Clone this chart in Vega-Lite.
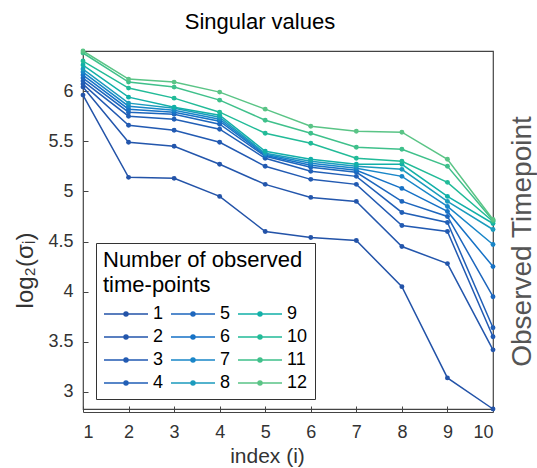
{
  "$schema": "https://vega.github.io/schema/vega-lite/v6.json",
  "autosize": {"type": "none"},
  "width": 410,
  "height": 358,
  "padding": {"left": 83, "top": 51, "right": 44, "bottom": 59},
  "config": {
    "font": "Liberation Sans",
    "view": {"stroke": "#444", "strokeWidth": 1.2},
    "title": {"fontSize": 22, "fontWeight": "normal", "color": "#000", "font": "Liberation Sans"},
    "axis": {"labelFont": "Liberation Sans", "titleFont": "Liberation Sans", "labelColor": "#333", "titleColor": "#333", "titleFontWeight": "normal", "grid": false}
  },
  "title": {"text": "Singular values", "fontSize": 22, "offset": 14, "anchor": "middle", "dx": -28},
  "data": {"values": [
    {"s":1,"i":1,"v":5.96},{"s":1,"i":2,"v":5.14},{"s":1,"i":3,"v":5.13},{"s":1,"i":4,"v":4.95},{"s":1,"i":5,"v":4.60},{"s":1,"i":6,"v":4.54},{"s":1,"i":7,"v":4.51},{"s":1,"i":8,"v":4.05},{"s":1,"i":9,"v":3.14},{"s":1,"i":10,"v":2.83},
    {"s":2,"i":1,"v":6.04},{"s":2,"i":2,"v":5.49},{"s":2,"i":3,"v":5.45},{"s":2,"i":4,"v":5.27},{"s":2,"i":5,"v":5.07},{"s":2,"i":6,"v":4.94},{"s":2,"i":7,"v":4.90},{"s":2,"i":8,"v":4.45},{"s":2,"i":9,"v":4.28},{"s":2,"i":10,"v":3.42},
    {"s":3,"i":1,"v":6.07},{"s":3,"i":2,"v":5.66},{"s":3,"i":3,"v":5.61},{"s":3,"i":4,"v":5.49},{"s":3,"i":5,"v":5.25},{"s":3,"i":6,"v":5.12},{"s":3,"i":7,"v":5.07},{"s":3,"i":8,"v":4.66},{"s":3,"i":9,"v":4.60},{"s":3,"i":10,"v":3.55},
    {"s":4,"i":1,"v":6.10},{"s":4,"i":2,"v":5.75},{"s":4,"i":3,"v":5.72},{"s":4,"i":4,"v":5.62},{"s":4,"i":5,"v":5.33},{"s":4,"i":6,"v":5.20},{"s":4,"i":7,"v":5.15},{"s":4,"i":8,"v":4.79},{"s":4,"i":9,"v":4.69},{"s":4,"i":10,"v":3.64},
    {"s":5,"i":1,"v":6.13},{"s":5,"i":2,"v":5.79},{"s":5,"i":3,"v":5.77},{"s":5,"i":4,"v":5.67},{"s":5,"i":5,"v":5.35},{"s":5,"i":6,"v":5.24},{"s":5,"i":7,"v":5.19},{"s":5,"i":8,"v":4.90},{"s":5,"i":9,"v":4.75},{"s":5,"i":10,"v":3.95},
    {"s":6,"i":1,"v":6.16},{"s":6,"i":2,"v":5.82},{"s":6,"i":3,"v":5.79},{"s":6,"i":4,"v":5.70},{"s":6,"i":5,"v":5.36},{"s":6,"i":6,"v":5.26},{"s":6,"i":7,"v":5.21},{"s":6,"i":8,"v":5.03},{"s":6,"i":9,"v":4.80},{"s":6,"i":10,"v":4.25},
    {"s":7,"i":1,"v":6.19},{"s":7,"i":2,"v":5.85},{"s":7,"i":3,"v":5.81},{"s":7,"i":4,"v":5.72},{"s":7,"i":5,"v":5.37},{"s":7,"i":6,"v":5.28},{"s":7,"i":7,"v":5.23},{"s":7,"i":8,"v":5.15},{"s":7,"i":9,"v":4.85},{"s":7,"i":10,"v":4.47},
    {"s":8,"i":1,"v":6.22},{"s":8,"i":2,"v":5.88},{"s":8,"i":3,"v":5.83},{"s":8,"i":4,"v":5.74},{"s":8,"i":5,"v":5.38},{"s":8,"i":6,"v":5.30},{"s":8,"i":7,"v":5.25},{"s":8,"i":8,"v":5.22},{"s":8,"i":9,"v":4.90},{"s":8,"i":10,"v":4.62},
    {"s":9,"i":1,"v":6.26},{"s":9,"i":2,"v":5.94},{"s":9,"i":3,"v":5.84},{"s":9,"i":4,"v":5.76},{"s":9,"i":5,"v":5.40},{"s":9,"i":6,"v":5.32},{"s":9,"i":7,"v":5.27},{"s":9,"i":8,"v":5.27},{"s":9,"i":9,"v":4.95},{"s":9,"i":10,"v":4.68},
    {"s":10,"i":1,"v":6.30},{"s":10,"i":2,"v":6.03},{"s":10,"i":3,"v":5.93},{"s":10,"i":4,"v":5.79},{"s":10,"i":5,"v":5.58},{"s":10,"i":6,"v":5.48},{"s":10,"i":7,"v":5.33},{"s":10,"i":8,"v":5.30},{"s":10,"i":9,"v":5.09},{"s":10,"i":10,"v":4.70},
    {"s":11,"i":1,"v":6.38},{"s":11,"i":2,"v":6.09},{"s":11,"i":3,"v":6.04},{"s":11,"i":4,"v":5.91},{"s":11,"i":5,"v":5.71},{"s":11,"i":6,"v":5.58},{"s":11,"i":7,"v":5.44},{"s":11,"i":8,"v":5.42},{"s":11,"i":9,"v":5.25},{"s":11,"i":10,"v":4.71},
    {"s":12,"i":1,"v":6.40},{"s":12,"i":2,"v":6.12},{"s":12,"i":3,"v":6.09},{"s":12,"i":4,"v":5.99},{"s":12,"i":5,"v":5.82},{"s":12,"i":6,"v":5.65},{"s":12,"i":7,"v":5.60},{"s":12,"i":8,"v":5.59},{"s":12,"i":9,"v":5.32},{"s":12,"i":10,"v":4.72}
  ]},
  "encoding": {
    "x": {"field": "i", "type": "quantitative", "scale": {"domain": [1, 10], "nice": false, "zero": false},
      "axis": {"values": [1,2,3,4,5,6,7,8,9,10], "title": "index (i)", "titleFontSize": 21, "labelFontSize": 18, "tickSize": -6, "tickColor": "#444", "domainColor": "#444", "offset": 3, "labelPadding": 17, "titleX": 184, "titleY": 50, "titleBaseline": "alphabetic"}},
    "y": {"field": "v", "type": "quantitative", "scale": {"domain": [2.83, 6.4], "nice": false, "zero": false}},
    "color": {"field": "s", "type": "ordinal",
      "scale": {"domain": [1,2,3,4,5,6,7,8,9,10,11,12],
        "range": ["#2353a8","#2356ac","#225ab2","#215fb6","#1d66bd","#1672c6","#1986c8","#1b9bbd","#12b0a8","#22bb98","#3fc08b","#5ac486"]}}
  },
  "layer": [
    {
      "mark": {"type": "line", "strokeWidth": 1.5},
      "encoding": {
        "y": {"field": "v", "type": "quantitative",
          "axis": {"values": [3,3.5,4,4.5,5,5.5,6], "format": "~f", "title": "log₂(σᵢ)", "titleFontSize": 24, "labelFontSize": 18, "tickSize": -5, "tickColor": "#444", "domain": false, "labelPadding": 15, "titleX": -58, "titleY": 219, "titleAlign": "center", "titleBaseline": "middle"}},
        "color": {"field": "s", "type": "ordinal",
          "legend": {"orient": "none", "legendX": 13, "legendY": 192, "title": ["Number of observed", "time-points"], "titleFontSize": 22, "titleFontWeight": "normal", "titleColor": "#000", "titleLimit": 400, "titleLineHeight": 25, "titlePadding": 5, "labelFontSize": 18, "labelColor": "#000", "columns": 3, "direction": "vertical",
            "symbolType": "M-1,0H3M0.82,0a0.18,0.18 0 1,0 0.36,0a0.18,0.18 0 1,0 -0.36,0", "symbolSize": 484, "symbolStrokeWidth": 1.5, "labelOffset": 26,
            "strokeColor": "#333", "fillColor": "#fff", "padding": 7, "rowPadding": 2, "columnPadding": 4,
            "encode": {"symbols": {"update": {"fill": {"scale": "color", "field": "value"}}}}}}
      }
    },
    {
      "mark": {"type": "point", "filled": true, "size": 24, "opacity": 1},
      "encoding": {
        "y": {"field": "v", "type": "quantitative",
          "axis": {"orient": "right", "labels": false, "ticks": false, "domain": false, "title": "Observed Timepoint", "titleFontSize": 28, "titleColor": "#555", "titleAngle": 270, "titleX": 29, "titleY": 190, "titleAlign": "center", "titleBaseline": "middle"}},
        "color": {"field": "s", "type": "ordinal", "legend": null}
      }
    }
  ],
  "resolve": {"axis": {"y": "independent"}}
}
